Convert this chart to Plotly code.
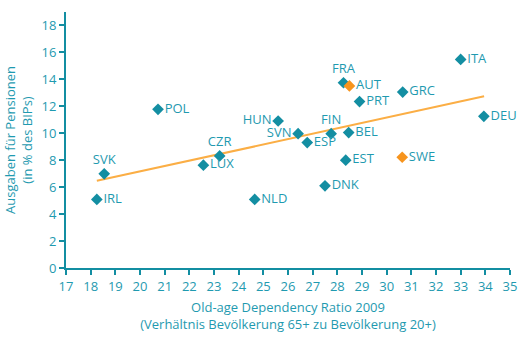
import plotly.graph_objects as go

countries = ["IRL", "SVK", "POL", "LUX", "CZR", "NLD", "HUN", "SVN", "ESP", "FIN",
             "DNK", "EST", "BEL", "FRA", "AUT", "PRT", "SWE", "GRC", "ITA", "DEU"]
dependency = [18.25, 18.55, 20.73, 22.57, 23.23, 24.65, 25.6, 26.41, 26.78, 27.75,
              27.5, 28.34, 28.46, 28.25, 28.49, 28.9, 30.63, 30.65, 33.0, 33.94]
pension = [5.09, 6.99, 11.78, 7.63, 8.32, 5.09, 10.91, 9.97, 9.31, 9.97,
           6.1, 8.0, 10.05, 13.75, 13.51, 12.35, 8.22, 13.06, 15.48, 11.26]
highlight = ["AUT", "SWE"]
label_pos = {"SVK": "top center", "CZR": "top center", "FRA": "top center",
             "FIN": "top center", "HUN": "middle left", "SVN": "middle left"}

trend_x = [18.25, 33.95]
trend_y = [6.47, 12.74]

TEAL = "#138ea2"
TEXT = "#1f9ab0"
ORANGE = "#f7941d"
LINE = "#fbae45"

fig = go.Figure()
fig.add_trace(go.Scatter(x=trend_x, y=trend_y, mode="lines",
                         line=dict(color=LINE, width=2), hoverinfo="skip", showlegend=False))
colors = [ORANGE if c in highlight else TEAL for c in countries]
positions = [label_pos.get(c, "middle right") for c in countries]
fig.add_trace(go.Scatter(
    x=dependency, y=pension, mode="markers+text", text=countries,
    textposition=positions,
    textfont=dict(family="Open Sans", size=13, color=TEXT),
    marker=dict(symbol="diamond", size=9, color=colors),
    showlegend=False, cliponaxis=False))

fig.update_layout(
    width=532, height=346,
    margin=dict(l=66, r=22, t=12, b=78),
    plot_bgcolor="white", paper_bgcolor="white",
    font=dict(family="Open Sans", color=TEXT, size=13),
)
fig.update_xaxes(range=[17, 35], dtick=1, showgrid=False, zeroline=False,
                 showline=True, linecolor=TEAL, linewidth=2, automargin=False,
                 ticks="outside", tickcolor=TEAL, ticklen=5, tickwidth=1.5,
                 tickfont=dict(size=13, color=TEXT),
                 title=dict(text="Old-age Dependency Ratio 2009<br>(Verhältnis Bevölkerung 65+ zu Bevölkerung 20+)",
                            font=dict(size=13, color=TEXT), standoff=9))
fig.update_yaxes(range=[0, 19], tickvals=list(range(0, 19, 2)), showgrid=False, zeroline=False,
                 showline=True, linecolor=TEAL, linewidth=2, automargin=False,
                 ticks="outside", tickcolor=TEAL, ticklen=5, tickwidth=1.5,
                 tickfont=dict(size=13, color=TEXT),
                 title=dict(text="Ausgaben für Pensionen<br>(in % des BIPs)",
                            font=dict(size=13, color=TEXT), standoff=6))

fig.write_html("out.html")
